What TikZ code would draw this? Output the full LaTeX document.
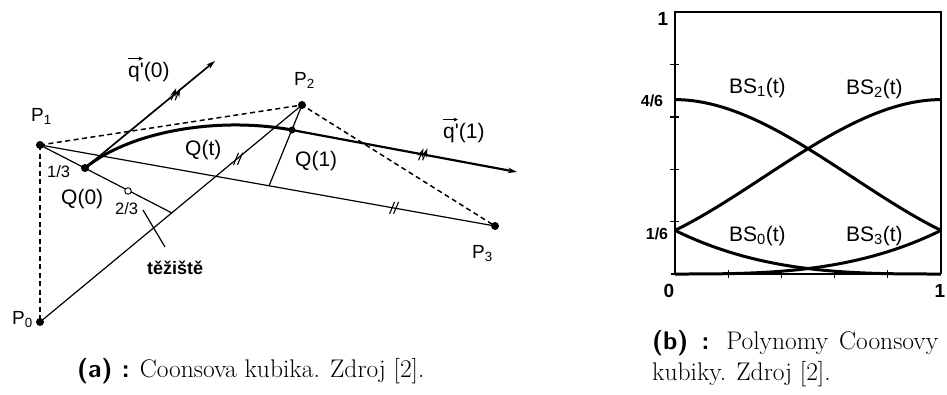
\documentclass[tikz,border=0pt]{standalone}
\usepackage{fontspec}
\newfontfamily\arial{Liberation Sans}
\usetikzlibrary{arrows.meta}
\begin{document}
\begin{tikzpicture}[x=1pt,y=-1pt,
  thinline/.style={line width=1.2pt},
  dashline/.style={line width=1.5pt, dash pattern=on 5pt off 3.5pt},
  pdot/.style={circle, fill=black, inner sep=0pt, minimum size=#1},
  pdot/.default=8pt,
  tipend/.style={-{Stealth[length=9pt,width=5.5pt]}},
  vecarrow/.style={line width=1.1pt, -{Stealth[length=4.5pt,width=4pt]}},
  plbl/.style={font=\arial\fontsize{19}{21}\selectfont, inner sep=0pt, anchor=base west},
  qlbl/.style={font=\arial\fontsize{21}{23}\selectfont, inner sep=0pt, anchor=base west},
  flbl/.style={font=\arial\fontsize{16.5}{18}\selectfont, inner sep=0pt, anchor=base west},
  blbl/.style={font=\arial\bfseries\fontsize{18}{20}\selectfont, inner sep=0pt, anchor=base west},
  nlbl/.style={font=\arial\bfseries\fontsize{16}{18}\selectfont, inner sep=0pt},
  curveline/.style={line width=3pt},
  hashes/.pic={\draw[line width=1.1pt] (-3.5,6) -- (1.5,-6); \draw[line width=1.1pt] (0.5,6) -- (5.5,-6);},
  captiona/.style={font=\fontsize{25.5}{31}\selectfont, inner sep=0pt, anchor=base west},
  captionb/.style={font=\fontsize{25.5}{31}\selectfont, inner sep=0pt, anchor=base west}
]
\fill[white] (0,0) rectangle (947,394);
\useasboundingbox (0,0) rectangle (947,394);

% ---------- (a) Coons cubic ----------
\coordinate (P0) at (40,322);
\coordinate (P1) at (40,145);
\coordinate (P2) at (302,105);
\coordinate (P3) at (495,226);
\coordinate (Q0) at (85,168);
\coordinate (Q1) at (292,130);
\coordinate (G) at (128,191);
\coordinate (M02) at (172,213);
\coordinate (M13) at (269,186);
\coordinate (T0) at (215,61);
\coordinate (T1) at (517,172);
\coordinate (L1) at (143,210);
\coordinate (L2) at (165,247);

\draw[dashline] (P1) -- (P2) -- (P3);
\draw[dashline] (P1) -- (P0);
\draw[thinline] (P0) -- (P2) pic[pos=0.752]{hashes};
\draw[thinline] (P1) -- (P3) pic[pos=0.776]{hashes};
\draw[thinline] (P1) -- (M02);
\draw[thinline] (P2) -- (M13);
\draw[thinline] (L1) -- (L2);
\draw[line width=1.7pt, tipend] (Q0) -- (T0) pic[pos=0.69]{hashes};
\draw[line width=2.2pt, tipend] (Q1) -- (T1) pic[pos=0.578]{hashes};
\draw[curveline] (Q0) .. controls (129,132) and (216,116) .. (Q1);

\node[pdot] (dP0) at (P0) {};
\node[pdot] (dP1) at (P1) {};
\node[pdot] (dP2) at (P2) {};
\node[pdot] (dP3) at (P3) {};
\node[pdot] (dQ0) at (Q0) {};
\node[pdot=7pt] (dQ1) at (Q1) {};
\node[circle, draw, fill=white, line width=0.9pt, inner sep=0pt, minimum size=6.5pt] (dG) at (G) {};

\node[plbl] (lP0) at (12,324) {P\textsubscript{0}};
\node[plbl] (lP1) at (31,121) {P\textsubscript{1}};
\node[plbl] (lP2) at (294,85) {P\textsubscript{2}};
\node[plbl] (lP3) at (472,258) {P\textsubscript{3}};
\node[qlbl] (lQt) at (185,155) {Q(t)};
\node[qlbl] (lQ1) at (295,166) {Q(1)};
\node[qlbl] (lQ0) at (61,204) {Q(0)};
\node[qlbl] (lq0) at (128,77) {q'(0)};
\node[qlbl] (lq1) at (443,138) {q'(1)};
\draw[vecarrow] ([yshift=3pt]lq0.north west) -- ++(15,0);
\draw[vecarrow] ([yshift=3pt]lq1.north west) -- ++(15,0);
\node[flbl] (l13) at (47,177) {1/3};
\node[flbl] (l23) at (115,214) {2/3};
\node[blbl] (lG) at (147,274) {těžiště};

\node[captiona] (capa) at (77,377) {{\sffamily\bfseries (a) :} Coonsova kubika. Zdroj [2].};

% ---------- (b) basis polynomials ----------
\coordinate (O) at (675,274);
\coordinate (BR) at (941,274);
\coordinate (TR) at (941,12);
\coordinate (TL) at (675,12);
\draw[line width=1.4pt] (O) -- (TL) -- (TR) -- (BR);
\draw[line width=2.4pt] (671,274) -- (BR);
\foreach \v in {0.2,0.4,0.6,0.8} {
  \draw[line width=1.2pt] (670,{274-261.6*\v}) -- (679,{274-261.6*\v});
  \draw[line width=1.2pt] ({675+266*\v},270) -- ({675+266*\v},278);
}
\draw[curveline] plot[domain=0:1, samples=60, variable=\t] ({675+266*\t}, {274-43.6*(1-\t)^3});
\draw[curveline] plot[domain=0:1, samples=60, variable=\t] ({675+266*\t}, {274-43.6*(3*\t^3-6*\t^2+4)});
\draw[curveline] plot[domain=0:1, samples=60, variable=\t] ({675+266*\t}, {274-43.6*(-3*\t^3+3*\t^2+3*\t+1)});
\draw[curveline] plot[domain=0:1, samples=60, variable=\t] ({675+266*\t}, {274-43.6*(\t^3)});

\node[qlbl] (bs1) at (729,93) {BS\textsubscript{1}(t)};
\node[qlbl] (bs2) at (846,94) {BS\textsubscript{2}(t)};
\node[qlbl] (bs0) at (729,241) {BS\textsubscript{0}(t)};
\node[qlbl] (bs3) at (846,241) {BS\textsubscript{3}(t)};

\node[nlbl, font=\arial\bfseries\fontsize{19}{20}\selectfont] (n1) at (663,19) {1};
\node[nlbl] (n46) at (652,101) {4/6};
\node[nlbl] (n16) at (657,234) {1/6};
\node[nlbl, font=\arial\bfseries\fontsize{19}{20}\selectfont] (n0) at (669,291) {0};
\node[nlbl, font=\arial\bfseries\fontsize{19}{20}\selectfont] (n1r) at (940,291) {1};

\node[captionb] (capb1) at (652,349) {\makebox[286pt][s]{{\sffamily\bfseries (b) :} Polynomy Coonsovy}};
\node[captionb] (capb2) at (652,380) {kubiky. Zdroj [2].};
\end{tikzpicture}
\end{document}
